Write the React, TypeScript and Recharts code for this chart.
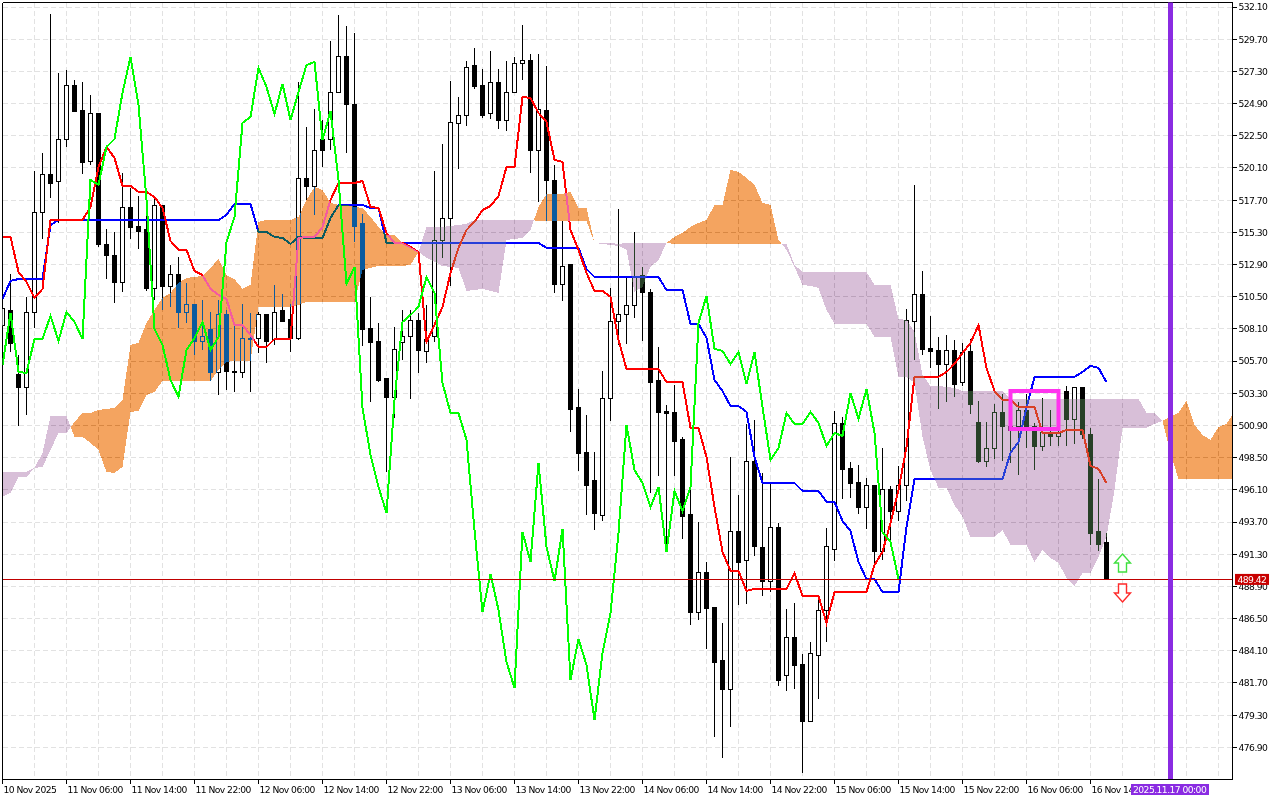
import React from 'react';
import { ComposedChart, Bar, Line, Area, XAxis, YAxis, CartesianGrid, ReferenceLine, ReferenceArea, ReferenceDot } from 'recharts';

const opens = [
508.32,509.44,504.67,503.70,509.29,516.75,519.58,519.06,522.26,526.22,
524.35,520.55,524.13,514.36,513.54,511.53,517.12,515.70,515.48,511.15,
517.27,511.23,512.12,509.29,509.89,507.13,508.02,504.82,509.21,504.96,
504.82,507.35,507.35,509.14,507.28,509.44,508.77,507.35,519.28,518.69,
522.26,522.26,525.70,528.45,524.87,515.93,508.10,507.13,504.37,502.95,
507.05,507.50,508.69,506.38,507.50,514.66,516.37,523.38,523.98,527.71,
526.22,524.13,526.44,523.61,525.70,527.86,528.08,521.37,524.35,519.13,
511.38,512.87,502.21,498.85,496.76,494.15,502.88,508.62,509.21,509.81,
512.05,510.78,504.22,501.91,501.83,499.82,494.23,486.92,489.90,487.29,
483.41,481.18,493.03,490.80,498.18,491.77,489.23,493.26,482.29,485.06,
483.11,478.86,483.71,487.07,491.62,501.01,497.66,496.61,494.82,496.39,
491.47,496.09,494.45,496.39,508.62,510.63,506.61,506.46,505.41,506.46,
504.07,506.38,501.09,498.25,499.15,501.83,500.86,500.86,501.98,500.86,
499.30,500.34,500.04,503.40,501.31,503.70,500.19,492.96,492.14];

const closes = [
509.59,506.98,503.70,509.29,516.75,519.58,518.98,522.26,526.22,524.28,
520.48,524.13,514.36,513.54,511.53,517.12,515.63,515.40,511.15,517.27,
511.23,512.12,509.36,509.89,507.13,507.50,504.82,509.21,504.89,504.82,
507.35,507.28,509.14,507.13,509.36,508.62,507.35,519.28,518.69,521.44,
521.44,525.70,528.45,524.87,515.70,508.02,507.05,504.29,502.95,506.53,
507.50,508.69,506.46,507.28,514.66,516.37,523.46,523.98,527.63,526.14,
524.05,526.44,523.61,525.70,527.86,528.08,521.37,524.43,519.13,511.38,
512.79,502.06,498.78,496.39,494.30,502.88,508.62,509.21,509.81,511.97,
510.78,504.07,501.83,501.76,499.74,494.08,486.92,489.90,487.22,483.26,
481.18,493.03,490.65,498.18,491.84,489.23,493.26,481.85,485.06,482.97,
478.86,483.86,487.07,491.84,501.01,497.58,496.54,494.75,496.39,491.47,
496.09,494.45,496.39,508.69,510.63,506.53,506.38,505.41,506.46,503.92,
506.31,502.43,498.25,499.15,501.83,500.86,500.49,501.98,500.86,499.30,
500.34,500.04,500.34,501.31,503.70,500.19,492.88,492.06,489.42];

const highs = [
510.26,512.20,506.16,510.48,519.88,521.22,531.59,527.19,527.41,526.66,
526.52,525.55,524.20,515.55,515.33,519.73,518.61,518.01,516.90,517.79,
517.34,512.87,513.47,511.53,509.89,510.26,509.36,510.26,509.51,508.32,
509.96,509.29,509.36,509.21,511.38,510.71,509.96,526.52,523.16,524.50,
523.68,529.57,531.51,530.69,530.17,516.67,510.48,508.54,504.44,508.25,
509.51,509.51,509.29,509.89,519.88,521.89,526.59,525.40,528.08,529.05,
527.48,528.83,527.48,528.08,528.38,530.77,528.60,528.60,527.71,520.33,
516.15,512.87,503.62,501.68,498.92,504.96,511.15,517.04,511.90,515.33,
512.72,511.08,506.75,502.43,503.92,500.04,496.09,493.70,490.72,487.29,
486.17,498.55,495.72,501.01,501.31,497.36,496.61,493.63,487.22,487.67,
483.86,484.75,488.11,493.26,501.98,501.53,498.18,497.95,496.99,496.46,
499.22,496.39,497.88,509.59,518.84,512.42,509.07,507.50,507.65,507.28,
507.05,507.35,502.73,501.16,502.50,503.25,501.31,502.65,503.25,501.09,
502.95,502.06,500.71,503.85,503.70,503.70,500.71,496.91,492.88];

const lows = [
507.65,506.38,500.86,501.68,508.17,514.81,517.87,516.00,521.67,524.28,
519.65,520.33,514.21,511.82,510.04,510.86,514.81,514.06,510.93,510.26,
509.51,509.74,508.17,508.54,506.16,506.53,504.22,503.17,503.55,503.40,
504.44,503.40,506.31,505.56,506.90,508.62,506.38,507.28,517.72,516.60,
520.18,521.44,525.70,521.22,514.58,506.83,502.65,504.14,497.43,501.46,
505.78,502.88,504.82,505.56,507.13,513.39,511.30,520.03,523.23,525.99,
523.83,523.76,523.01,522.86,525.70,526.66,519.73,517.57,516.15,510.78,
510.18,500.42,497.51,494.23,493.11,493.78,501.24,506.90,506.98,508.92,
507.20,495.87,497.13,491.47,497.13,492.44,486.02,486.40,484.23,477.67,
476.10,478.42,487.52,487.59,491.17,488.19,488.49,481.47,481.10,481.25,
474.99,478.79,480.51,484.75,490.80,495.42,495.49,494.30,493.18,490.57,
490.87,492.14,493.78,495.27,505.78,506.16,505.19,502.13,502.65,503.03,
503.85,501.76,498.10,497.81,498.40,498.25,498.10,497.21,499.22,497.58,
498.97,499.37,499.37,499.37,499.52,499.89,491.99,491.54,489.42];

const tenkan = [
514.96,514.96,512.35,511.60,510.41,511.08,516.22,516.22,516.22,516.22,
516.22,517.19,520.18,521.67,520.85,518.76,518.76,518.31,518.31,517.94,
517.12,514.66,513.99,513.99,512.42,512.12,511.08,510.63,510.33,508.39,
508.39,507.65,506.75,506.75,507.35,507.35,507.35,514.88,514.96,514.96,
515.70,517.72,518.98,518.98,518.98,519.13,517.19,517.12,515.25,514.51,
514.51,514.21,513.84,507.13,508.39,509.74,512.27,514.14,515.48,516.08,
516.97,517.27,518.01,520.18,520.18,525.40,525.32,524.20,523.53,520.70,
520.55,515.48,513.99,512.27,510.93,510.93,510.48,507.28,505.11,505.11,
505.11,505.11,505.11,504.14,504.14,504.14,500.71,500.71,498.55,494.82,
491.47,490.05,490.05,488.56,488.71,488.71,488.71,488.71,488.71,489.90,
488.19,488.19,488.19,486.17,488.49,488.49,488.49,488.49,488.49,490.50,
491.47,493.63,496.09,499.30,504.52,504.52,504.52,504.52,504.89,505.49,
506.31,507.05,508.39,505.19,503.47,502.80,502.80,502.28,502.28,502.28,
500.34,500.34,500.34,500.56,500.56,500.56,497.88,497.66,496.61];

const kijun = [
510.33,511.68,511.82,511.82,511.82,511.82,515.85,516.22,516.22,516.22,
516.22,516.22,516.22,516.22,516.22,516.22,516.22,516.22,516.22,516.22,
516.22,516.22,516.22,516.22,516.22,516.22,516.22,516.22,516.60,517.42,
517.42,517.42,515.33,515.33,514.96,514.88,514.44,514.96,514.88,514.88,
514.88,516.37,517.34,517.34,517.34,517.34,517.12,517.12,514.51,514.51,
514.51,514.51,514.51,514.51,514.51,514.51,514.51,514.51,514.51,514.51,
514.51,514.51,514.51,514.51,514.51,514.51,514.51,514.51,514.14,514.14,
514.14,514.14,514.14,512.57,511.97,511.97,511.97,511.97,511.97,511.97,
511.97,511.97,511.97,511.00,511.00,511.00,508.47,508.47,507.43,504.29,
503.47,502.35,502.35,501.91,498.55,496.61,496.61,496.61,496.61,496.61,
496.02,496.02,496.02,495.20,495.20,493.78,493.03,490.72,489.45,489.45,
488.48,488.48,488.48,493.33,496.91,496.91,496.91,496.91,496.91,496.91,
496.91,496.91,496.91,496.91,496.91,496.91,498.85,499.67,502.21,504.52,
504.52,504.52,504.52,504.52,504.52,504.89,505.34,505.19,504.14];

const chikou = [
505.41,509.29,504.89,504.82,507.35,507.35,509.07,507.20,509.36,508.62,
507.35,519.21,518.84,521.67,522.26,525.70,528.38,524.80,517.72,508.10,
506.90,504.29,503.03,506.53,507.43,508.62,506.53,507.50,514.58,516.45,
523.46,523.91,527.56,526.14,524.13,526.37,523.68,525.77,527.78,528.01,
522.19,524.35,519.21,511.45,512.72,502.21,498.70,496.31,494.38,502.80,
508.62,509.14,509.74,511.97,510.78,504.07,501.83,501.83,499.82,493.11,
486.99,489.83,487.14,483.26,481.33,492.96,490.72,498.11,491.84,489.30,
493.18,481.92,484.98,483.04,478.94,483.94,486.92,492.88,500.94,497.58,
496.61,494.82,496.31,491.47,496.02,494.52,496.31,508.54,510.56,506.61,
506.46,505.49,506.38,503.99,506.38,502.28,498.33,499.22,501.83,501.01,
501.01,501.91,501.09,499.37,500.34,500.12,503.32,501.39,503.62,500.34,
492.96,492.21,489.45];

const spanA = [
495.57,495.87,497.06,497.06,497.73,497.81,499.07,500.34,500.34,501.16,
501.83,501.83,502.06,502.13,502.21,502.80,506.90,507.05,508.54,509.51,
510.41,510.78,511.53,511.90,511.97,512.05,512.65,513.32,512.12,511.82,
511.08,511.38,516.08,516.22,516.22,516.22,516.22,516.45,517.72,518.69,
518.46,517.49,517.34,517.34,517.19,517.12,516.45,515.70,515.11,515.11,
514.51,514.21,513.84,513.39,513.09,512.79,512.72,512.65,510.93,511.00,
511.08,510.93,510.78,514.73,514.81,514.88,515.48,517.19,518.16,518.16,
518.16,518.31,517.12,517.12,514.51,514.44,514.36,514.29,513.99,510.85,
511.23,512.72,513.24,514.51,514.96,515.26,515.70,516.00,516.22,517.34,
517.34,519.95,519.80,519.36,518.84,517.49,517.34,514.73,513.99,512.72,
511.38,511.30,511.15,509.51,508.47,508.47,508.47,508.47,508.47,507.50,
507.50,507.50,504.52,504.52,504.07,500.04,497.58,496.24,496.24,494.97,
494.08,492.58,492.58,492.58,492.58,493.11,491.99,491.99,491.99,490.72,
491.62,491.02,490.65,489.53,488.93,489.90,489.90,491.10,492.58,496.09,
500.71,500.71,500.71,500.71,501.01,501.24,501.53,501.83,502.73,500.94,
500.19,499.82,500.79,501.01,501.91];

const spanB = [
497.43,497.43,497.43,497.43,497.73,498.85,501.61,501.61,501.61,500.04,
500.04,499.60,499.07,497.43,497.36,497.81,501.91,501.98,503.17,503.40,
504.22,504.22,504.22,504.22,504.22,504.22,504.22,505.04,505.64,505.71,
505.71,505.71,509.74,509.74,509.74,509.74,509.74,509.89,510.11,510.11,
510.11,510.11,510.11,510.11,510.11,512.50,512.65,512.79,512.79,512.79,
512.79,512.87,513.84,515.70,515.70,515.70,515.78,515.85,515.93,516.22,
516.22,516.22,516.22,516.22,516.22,516.22,516.22,516.15,516.15,516.15,
516.15,516.15,516.15,516.15,514.51,514.51,514.51,514.44,514.51,514.51,
514.51,514.51,514.51,514.51,514.44,514.44,514.44,514.44,514.44,514.44,
514.44,514.44,514.44,514.44,514.44,514.44,514.44,514.44,514.44,512.87,
512.35,512.35,512.35,512.35,512.35,512.35,512.35,512.35,512.35,511.38,
511.38,511.38,508.84,508.77,507.87,504.67,503.85,503.85,503.77,503.70,
503.47,503.47,503.47,503.47,503.47,503.47,502.88,502.88,502.88,502.88,
502.88,502.88,502.88,502.88,502.88,502.88,502.88,502.88,502.88,502.88,
502.88,502.88,502.88,501.83,501.83,501.24,498.85,496.91,496.91,496.91,
496.91,496.91,496.91,496.91,496.91];

const priceTicks = [532.1,529.7,527.3,524.9,522.5,520.1,517.7,515.3,512.9,510.5,508.1,505.7,503.3,500.9,498.5,496.1,493.7,491.3,488.9,486.5,484.1,481.7,479.3,476.9];
const lastPrice = 489.42;
const timeTicks = [0,8,16,24,32,40,48,56,64,72,80,88,96,104,112,120,128,136];
const timeLabels = ['10 Nov 2025','11 Nov 06:00','11 Nov 14:00','11 Nov 22:00','12 Nov 06:00','12 Nov 14:00','12 Nov 22:00','13 Nov 06:00','13 Nov 14:00','13 Nov 22:00','14 Nov 06:00','14 Nov 14:00','14 Nov 22:00','15 Nov 06:00','15 Nov 14:00','15 Nov 22:00','16 Nov 06:00','16 Nov 14:00'];
const gridTimes = [0,4,8,12,16,20,24,28,32,36,40,44,48,52,56,60,64,68,72,76,80,84,88,92,96,100,104,108,112,116,120,124,128,132,136,140,144,148,152];
const markerIndex = 146;
const markerLabel = '2025.11.17 00:00';
const FONT = '"DejaVu Sans", sans-serif';
const FS = 9.2;
const LS = -0.55;

type Row = Record<string, any>;
const rows: Row[] = [];
for (let i = 0; i < spanA.length; i++) {
  const a = spanA[i], b = spanB[i];
  const row: Row = { i };
  if (i < opens.length) {
    row.o = opens[i]; row.h = highs[i]; row.l = lows[i]; row.c = closes[i];
    row.range = [lows[i], highs[i]];
    row.tenkan = tenkan[i]; row.kijun = kijun[i];
  }
  if (i < chikou.length) row.chikou = chikou[i];
  row.orange = a >= b ? [b, a] : null;
  row.purple = a <= b ? [a, b] : null;
  rows.push(row);
  if (i + 1 < spanA.length) {
    const d0 = a - b, d1 = spanA[i + 1] - spanB[i + 1];
    if (d0 * d1 < 0) {
      const t = d0 / (d0 - d1);
      const v = a + (spanA[i + 1] - a) * t;
      rows.push({ i: i + t, orange: [v, v], purple: [v, v] });
    }
  }
}

function Candle(props: any) {
  const { x, y, width, height, payload } = props;
  if (!payload || payload.o == null || !(height > 0)) return null;
  const { o, h, l, c } = payload;
  const k = height / (h - l);
  const cx = x + width / 2;
  const top = y + (h - Math.max(o, c)) * k;
  const bot = y + (h - Math.min(o, c)) * k;
  const bull = c >= o;
  return (
    <g shapeRendering="crispEdges">
      <line x1={cx} x2={cx} y1={y} y2={y + height} stroke="#000" strokeWidth={1} />
      <rect x={cx - 2} y={top} width={4} height={Math.max(bot - top, 1)} fill={bull ? '#fff' : '#000'} stroke="#000" strokeWidth={1} />
    </g>
  );
}

function PriceTick(props: any) {
  const { x, y, payload } = props;
  const v = payload.value;
  if (v === lastPrice) {
    return (
      <g>
        <rect x={x + 2.5} y={y - 5.5} width={34} height={11} fill="#c80000" />
        <text x={x + 5} y={y + 3.4} fontSize={FS} letterSpacing={LS} fontFamily={FONT} fill="#fff">{v.toFixed(2)}</text>
      </g>
    );
  }
  return (
    <g>
      <line x1={x} x2={x + 4} y1={y} y2={y} stroke="#000" shapeRendering="crispEdges" />
      <text x={x + 6} y={y + 3.4} fontSize={FS} letterSpacing={LS} fontFamily={FONT} fill="#000">{v.toFixed(2)}</text>
    </g>
  );
}

function TimeTick(props: any) {
  const { x, y, payload } = props;
  const v = payload.value;
  if (v === markerIndex) {
    return (
      <g>
        <rect x={x - 39.5} y={y + 4.5} width={78} height={11} fill="#8a2be2" />
        <text x={x - 37.5} y={y + 13.4} fontSize={FS} letterSpacing={LS} fontFamily={FONT} fill="#fff">{markerLabel}</text>
      </g>
    );
  }
  const idx = timeTicks.indexOf(v);
  return (
    <g>
      <line x1={x} x2={x} y1={y} y2={y + 4} stroke="#000" shapeRendering="crispEdges" />
      <text x={x + 1} y={y + 13} fontSize={FS} letterSpacing={LS} fontFamily={FONT} fill="#000">{timeLabels[idx]}</text>
    </g>
  );
}

function UpArrow(props: any) {
  const { cx, cy } = props;
  const d = `M${cx},${cy} L${cx + 8},${cy + 9} L${cx + 4},${cy + 9} L${cx + 4},${cy + 18} L${cx - 4},${cy + 18} L${cx - 4},${cy + 9} L${cx - 8},${cy + 9} Z`;
  return <path d={d} fill="#fff" stroke="#3fe03f" strokeWidth={1.4} />;
}

function DownArrow(props: any) {
  const { cx, cy } = props;
  const d = `M${cx},${cy} L${cx + 8},${cy - 9} L${cx + 4},${cy - 9} L${cx + 4},${cy - 18} L${cx - 4},${cy - 18} L${cx - 4},${cy - 9} L${cx - 8},${cy - 9} Z`;
  return <path d={d} fill="#fff" stroke="#ff2a2a" strokeWidth={1.4} />;
}

const YMIN = 474.5, YMAX = 532.44, XMAX = 153.75;

export default function App() {
  return (
    <div style={{ position: 'absolute', left: 0, top: 0, width: 1280, height: 800, background: '#fff' }}>
      <style>{`.cloud-blend{mix-blend-mode:difference}`}</style>
      <ComposedChart width={1280} height={800} data={rows} margin={{ left: 2.5, top: 2.5, right: 0, bottom: 0 }}>
        <CartesianGrid fill="#fff" stroke="#e2e2e2" strokeDasharray="5 3" verticalValues={gridTimes} horizontalValues={priceTicks} shapeRendering="crispEdges" />
        <XAxis dataKey="i" type="number" domain={[0, XMAX]} allowDataOverflow ticks={[...timeTicks, markerIndex]} interval={0} tick={TimeTick} tickLine={false} tickSize={0} tickMargin={0} height={20.5} stroke="#000" axisLine={{ stroke: '#000', shapeRendering: 'crispEdges' }} />
        <YAxis type="number" orientation="right" domain={[YMIN, YMAX]} allowDataOverflow ticks={[...priceTicks, lastPrice]} interval={0} tick={PriceTick} tickLine={false} tickSize={0} tickMargin={0} width={47.5} axisLine={{ stroke: '#000', shapeRendering: 'crispEdges' }} />
        <ReferenceLine x={0} stroke="#000" shapeRendering="crispEdges" zIndex={5} />
        <ReferenceLine y={YMAX} stroke="#000" shapeRendering="crispEdges" zIndex={5} />
        <Bar dataKey="range" barSize={5} shape={Candle} isAnimationActive={false} zIndex={10} />
        <Line dataKey="kijun" stroke="#0000ff" strokeWidth={2} shapeRendering="crispEdges" dot={false} connectNulls isAnimationActive={false} zIndex={20} />
        <Line dataKey="tenkan" stroke="#ff0000" strokeWidth={2} shapeRendering="crispEdges" dot={false} connectNulls isAnimationActive={false} zIndex={21} />
        <Area className="cloud-blend" dataKey="orange" fill="#0b5b9f" fillOpacity={1} stroke="none" dot={false} activeDot={false} shapeRendering="crispEdges" isAnimationActive={false} zIndex={30} />
        <Area className="cloud-blend" dataKey="purple" fill="#274027" fillOpacity={1} stroke="none" dot={false} activeDot={false} shapeRendering="crispEdges" isAnimationActive={false} zIndex={31} />
        <Line dataKey="chikou" stroke="#00ff00" strokeWidth={2} shapeRendering="crispEdges" dot={false} connectNulls isAnimationActive={false} zIndex={40} />
        <ReferenceLine y={lastPrice} stroke="#c00000" shapeRendering="crispEdges" zIndex={50} />
        <ReferenceLine x={markerIndex} stroke="#8a2be2" strokeWidth={5} zIndex={51} />
        <ReferenceArea x1={126} x2={132} y1={500.64} y2={503.47} fill="none" stroke="#ff33ee" strokeWidth={4} ifOverflow="visible" zIndex={52} />
        <ReferenceDot x={140} y={491.32} r={1} shape={UpArrow} ifOverflow="visible" zIndex={53} />
        <ReferenceDot x={140} y={487.74} r={1} shape={DownArrow} ifOverflow="visible" zIndex={53} />
      </ComposedChart>
    </div>
  );
}
